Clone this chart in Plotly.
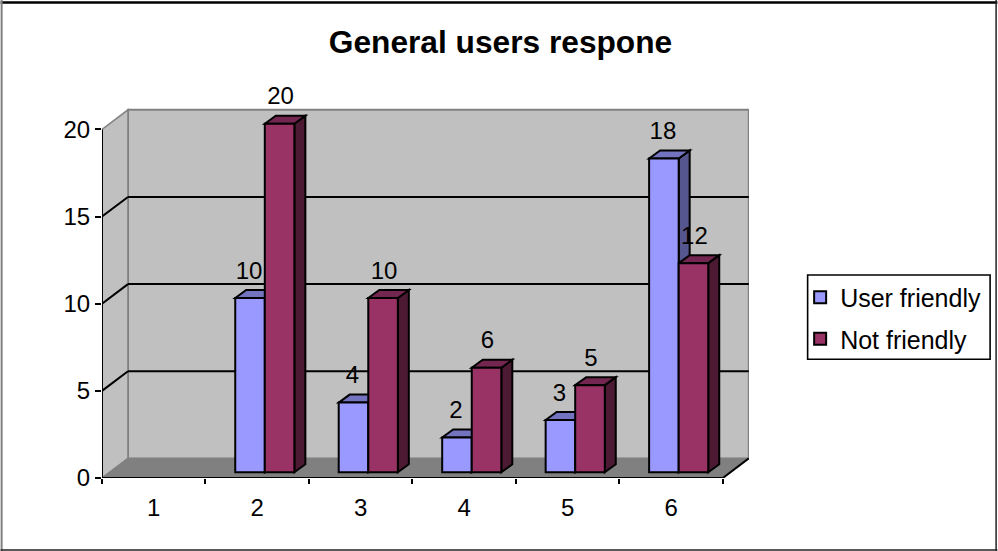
import plotly.graph_objects as go

categories = [1, 2, 3, 4, 5, 6]
series_names = ["User friendly", "Not friendly"]
user_friendly = [None, 10, 4, 2, 3, 18]
not_friendly = [None, 20, 10, 6, 5, 12]
y_ticks = [0, 5, 10, 15, 20]

W, H = 998, 551
L, R, T, B = 101.5, 749.3, 80.0, 478.0      # plot box in px
CAT_PX = 103.6
VAL_PX = 17.43
X0, X1 = 0.5, 0.5 + (R - L) / CAT_PX
Y0, Y1 = 0.0, (B - T) / VAL_PX
XEND = 6.5

DX, DY = 26 / CAT_PX, 19.6 / VAL_PX          # wall depth
BW = 29.6 / CAT_PX                           # bar width
BOFF = 7.6 / CAT_PX                          # bar shift
BBASE = 5.7 / VAL_PX                         # bar base
SX, SY = 11 / CAT_PX, 8 / VAL_PX             # bar depth
LW = 2.0

BLUE, BLUE_SIDE, BLUE_TOP = "#9999FF", "#55558F", "#7373BF"
RED, RED_SIDE, RED_TOP = "#993366", "#4D1A33", "#732650"
WALL, FLOOR, EDGE = "#C0C0C0", "#808080", "#808080"


def poly(pts, fill, line="#000000", width=LW):
    path = "M" + " L".join(f"{x},{y}" for x, y in pts) + " Z"
    return dict(type="path", path=path, xref="x", yref="y", layer="below",
                fillcolor=fill, line=dict(color=line, width=width))


def seg(x0, y0, x1, y1, color="#000000", width=LW, layer="below"):
    return dict(type="line", x0=x0, y0=y0, x1=x1, y1=y1, xref="x", yref="y",
                layer=layer, line=dict(color=color, width=width))


def px_x(x):
    return (x - L) / (R - L)


def px_y(y):
    return (B - y) / (B - T)


def frame(x0, y0, x1, y1, color, width):
    return dict(type="line", xref="paper", yref="paper",
                x0=px_x(x0), x1=px_x(x1), y0=px_y(y0), y1=px_y(y1),
                line=dict(color=color, width=width))


shapes = [
    poly([(X0 + DX, DY), (XEND + DX, DY), (XEND + DX, 20 + DY), (X0 + DX, 20 + DY)], WALL, EDGE, 2),
    poly([(X0, 0), (X0 + DX, DY), (X0 + DX, 20 + DY), (X0, 20)], WALL, EDGE, 1.5),
    poly([(X0, 0), (X0 + DX, DY), (XEND + DX, DY), (XEND, 0)], FLOOR, EDGE, 1.0),
]
for v in y_ticks[1:-1]:
    shapes.append(seg(X0, v, X0 + DX, v + DY))
    shapes.append(seg(X0 + DX, v + DY, XEND + DX, v + DY))
shapes.append(seg(XEND, 0, XEND + DX, DY))
shapes.append(seg(X0, 0, XEND, 0))
shapes.append(seg(X0, 0, X0, 20))

for vals, side, top, off in [(user_friendly, BLUE_SIDE, BLUE_TOP, 0),
                             (not_friendly, RED_SIDE, RED_TOP, 1)]:
    for c, v in zip(categories, vals):
        if v is None:
            continue
        xl = c + BOFF + (off - 1) * BW
        xr = xl + BW
        yt = v + BBASE
        shapes.append(poly([(xr, BBASE), (xr + SX, BBASE + SY), (xr + SX, yt + SY), (xr, yt)], side))
        shapes.append(poly([(xl, yt), (xl + SX, yt + SY), (xr + SX, yt + SY), (xr, yt)], top))

shapes += [
    frame(0, 2.5, W, 2.5, "#000000", 2.5),
    frame(1, 0, 1, H, "#808080", 2),
    frame(996.7, 0, 996.7, H, "#222222", 1.5),
    frame(0, 550, W, 550, "#222222", 1.5),
    dict(type="rect", xref="paper", yref="paper",
         x0=px_x(808), x1=px_x(990.7), y0=px_y(275), y1=px_y(359.3),
         line=dict(color="#000000", width=1.6), fillcolor="rgba(0,0,0,0)"),
]

fig = go.Figure()
for name, vals, color, off, nudge in [(series_names[0], user_friendly, BLUE, -0.5, -6),
                                      (series_names[1], not_friendly, RED, 0.5, -4)]:
    fig.add_trace(go.Bar(
        name=name, x=categories, y=vals, base=BBASE, width=BW,
        offset=BOFF + (off - 0.5) * BW, legendgroup=name,
        marker=dict(color=color, line=dict(color="#000000", width=LW)),
        cliponaxis=False,
    ))
    xs = [c + BOFF + off * BW + SX / 2 + (nudge - 0.5) / CAT_PX for c in categories]
    ys = [None if v is None else v + BBASE + SY + 1.0 for v in vals]
    fig.add_trace(go.Scatter(
        x=xs, y=ys, mode="text",
        text=["" if v is None else str(v) for v in vals],
        textposition="middle center",
        textfont=dict(family="Liberation Sans", size=24, color="#000000"),
        showlegend=False, cliponaxis=False, hoverinfo="skip",
    ))

fig.update_layout(
    width=W, height=H,
    margin=dict(l=L, r=W - R, t=T, b=H - B, pad=0, autoexpand=False),
    paper_bgcolor="#FFFFFF", plot_bgcolor="#FFFFFF",
    font=dict(family="Liberation Sans", size=24, color="#000000"),
    barmode="overlay",
    shapes=shapes,
    title=dict(text="<b>General users respone</b>", x=500.5 / W, xanchor="center",
               y=1 - 42 / H, yanchor="middle",
               font=dict(family="Liberation Sans", size=31.7, color="#000000")),
    xaxis=dict(range=[X0, X1], tickmode="array", tickvals=categories,
               ticktext=[str(c) for c in categories], ticklen=0, showgrid=False,
               zeroline=False, showline=False, ticklabelstandoff=13,
               minor=dict(tickmode="array", tickvals=[0.5, 1.5, 2.5, 3.5, 4.5, 5.5, 6.5],
                          ticks="outside", ticklen=5, tickwidth=LW, tickcolor="#000000",
                          showgrid=False),
               tickfont=dict(size=24)),
    yaxis=dict(range=[Y0, Y1], tickmode="array", tickvals=y_ticks, ticks="outside",
               ticklen=6, tickwidth=LW, tickcolor="#000000", showgrid=False,
               zeroline=False, showline=False, tickfont=dict(size=24)),
    legend=dict(xanchor="left", yanchor="top", bgcolor="rgba(0,0,0,0)",
                borderwidth=0, traceorder="grouped",
                tracegroupgap=6, font=dict(size=25, family="Liberation Sans")),
)
# legend x and y are given relative to the plot box
fig.layout.legend.x = px_x(800.5)
fig.layout.legend.y = px_y(274.5)

fig.write_html("out.html", config={"displayModeBar": False},
               post_script="document.body.style.margin='0';")
